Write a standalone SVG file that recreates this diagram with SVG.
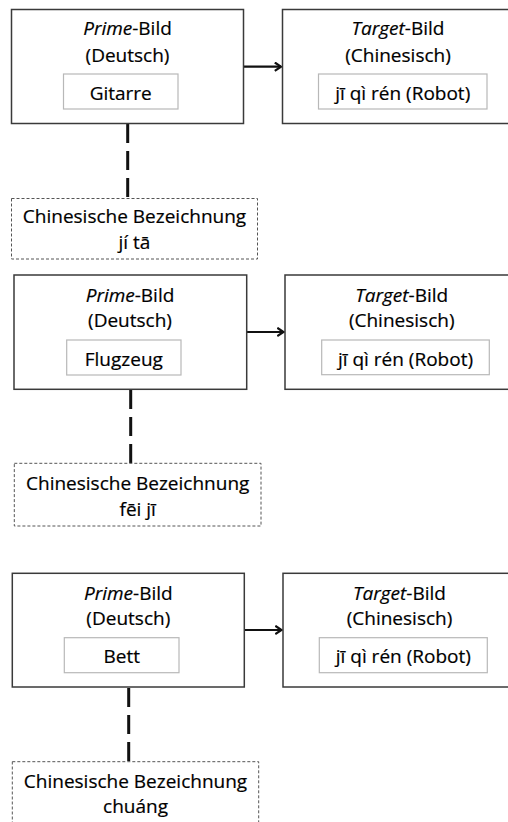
<svg xmlns="http://www.w3.org/2000/svg" width="508" height="822" viewBox="0 0 508 822">
<defs>
<style>
.box{fill:#fff;stroke:#3a3a3a;stroke-width:1.5}
.inner{fill:#fff;stroke:#b8b8b8;stroke-width:1.2}
.dot{fill:#fff;stroke:#555;stroke-width:1;stroke-dasharray:3 2}
.t{font-family:"Open Sans","Liberation Sans",sans-serif;font-size:19px;fill:#000;text-anchor:middle;stroke:#000;stroke-width:0.2}
.it{font-style:italic}
.arrow{stroke:#111;stroke-width:2.2;fill:none;marker-end:url(#ah)}
.dash{stroke:#111;stroke-width:3;stroke-dasharray:19 8;fill:none}
</style>
<marker id="ah" markerWidth="12" markerHeight="12" refX="7" refY="5" orient="auto" markerUnits="userSpaceOnUse">
<path d="M0.8,0.8 L7,5 L0.8,9.2" fill="none" stroke="#111" stroke-width="2.2"/>
</marker>
</defs>
<rect width="508" height="822" fill="#fff"/>
<g id="connectors">
<line class="arrow" x1="243.5" y1="66.7" x2="281" y2="66.7"/>
<line class="dash" x1="127.7" y1="124" x2="127.7" y2="198"/>
<line class="arrow" x1="246.7" y1="332" x2="283.5" y2="332"/>
<line class="dash" x1="130.7" y1="390" x2="130.7" y2="463"/>
<line class="arrow" x1="244.3" y1="630" x2="281.5" y2="630"/>
<line class="dash" x1="128.7" y1="688" x2="128.7" y2="762"/>
</g>
<g id="prime1">
<rect class="box" x="11.5" y="9.5" width="232" height="114"/>
<text class="t" x="127.5" y="35"><tspan class="it">Prime</tspan>-Bild</text>
<text class="t" x="127.5" y="62">(Deutsch)</text>
<rect class="inner" x="63.5" y="74" width="114.5" height="35"/>
<text class="t" x="120.7" y="99.5">Gitarre</text>
</g>
<g id="target1">
<rect class="box" x="282.5" y="9.5" width="240" height="114"/>
<text class="t" x="398" y="35"><tspan class="it">Target</tspan>-Bild</text>
<text class="t" x="398" y="62">(Chinesisch)</text>
<rect class="inner" x="318.5" y="74" width="168.5" height="35"/>
<text class="t" x="402.7" y="99.5">jī qì rén (Robot)</text>
</g>
<g id="chinese1">
<rect class="dot" x="11.5" y="198.5" width="246" height="60.5"/>
<text class="t" x="134.5" y="223">Chinesische Bezeichnung</text>
<text class="t" x="134.5" y="248.5">jí tā</text>
</g>
<g id="prime2">
<rect class="box" x="14" y="275" width="232.7" height="114.3"/>
<text class="t" x="130" y="301.7"><tspan class="it">Prime</tspan>-Bild</text>
<text class="t" x="130" y="327">(Deutsch)</text>
<rect class="inner" x="66.7" y="340" width="114.3" height="35"/>
<text class="t" x="123.8" y="365.5">Flugzeug</text>
</g>
<g id="target2">
<rect class="box" x="285" y="275" width="240" height="114.3"/>
<text class="t" x="401.7" y="301.7"><tspan class="it">Target</tspan>-Bild</text>
<text class="t" x="401.7" y="327">(Chinesisch)</text>
<rect class="inner" x="321.7" y="340" width="167.6" height="34.7"/>
<text class="t" x="405.5" y="365.5">jī qì rén (Robot)</text>
</g>
<g id="chinese2">
<rect class="dot" x="14.3" y="463.3" width="246.7" height="62.7"/>
<text class="t" x="137.7" y="490">Chinesische Bezeichnung</text>
<text class="t" x="137.7" y="516">fēi jī</text>
</g>
<g id="prime3">
<rect class="box" x="12.3" y="573.3" width="232" height="113.7"/>
<text class="t" x="128.3" y="600"><tspan class="it">Prime</tspan>-Bild</text>
<text class="t" x="128.3" y="625.3">(Deutsch)</text>
<rect class="inner" x="64.3" y="637.7" width="114.7" height="35"/>
<text class="t" x="121.7" y="663.3">Bett</text>
</g>
<g id="target3">
<rect class="box" x="283" y="573.3" width="240" height="113.7"/>
<text class="t" x="399.5" y="600"><tspan class="it">Target</tspan>-Bild</text>
<text class="t" x="399.5" y="625.3">(Chinesisch)</text>
<rect class="inner" x="319.3" y="637.7" width="168" height="35"/>
<text class="t" x="403.3" y="663.3">jī qì rén (Robot)</text>
</g>
<g id="chinese3">
<rect class="dot" x="12.3" y="761.7" width="246.4" height="80"/>
<text class="t" x="135.5" y="788.3">Chinesische Bezeichnung</text>
<text class="t" x="135.5" y="813.3">chuáng</text>
</g>
</svg>
